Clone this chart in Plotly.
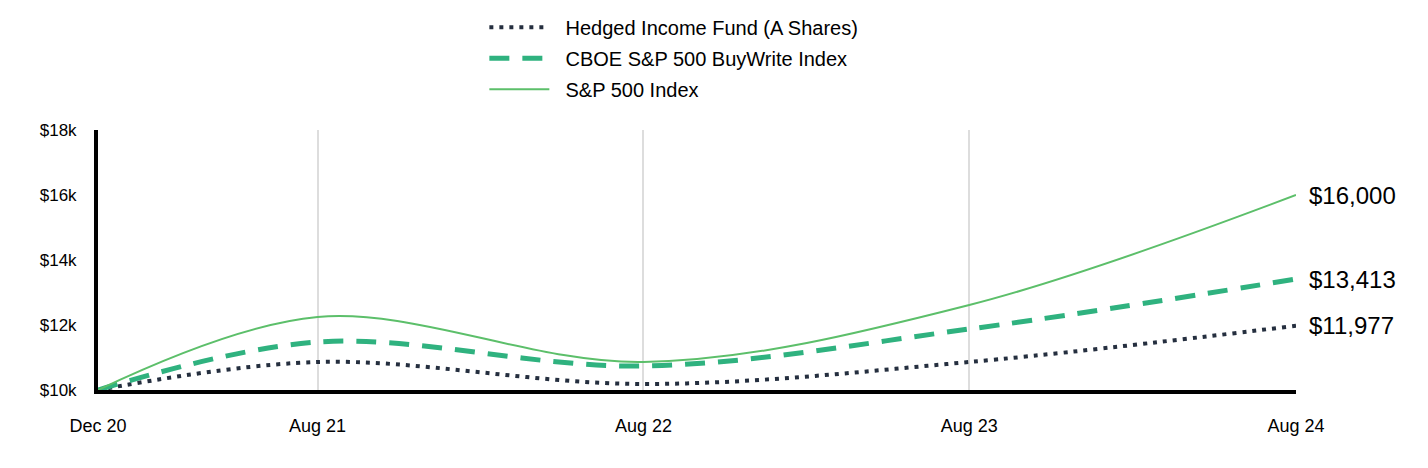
import plotly.graph_objects as go

dates = ["2020-12-28", "2021-08-31", "2022-08-31", "2023-08-31", "2024-08-31"]
date_labels = ["Dec 20", "Aug 21", "Aug 22", "Aug 23", "Aug 24"]

hedged = [10000, 10862, 10185, 10862, 11977]
buywrite = [10000, 11477, 10738, 11877, 13413]
sp500 = [10000, 12246, 10862, 12615, 16000]

y_ticks = [10000, 12000, 14000, 16000, 18000]
y_tick_text = ["$10k", "$12k", "$14k", "$16k", "$18k"]

names = ["Hedged Income Fund (A Shares)", "CBOE S&P 500 BuyWrite Index", "S&P 500 Index"]
series = [hedged, buywrite, sp500]
colors = ["#252f3f", "#2fb27f", "#5cbf6a"]
dashes = ["4px,6px", "20px,13px", "solid"]
widths = [4, 5, 2]

FONT = "Liberation Sans, Arial, sans-serif"

fig = go.Figure()
for i, (nm, vals) in enumerate(zip(names, series)):
    fig.add_trace(go.Scatter(
        x=dates, y=vals, name="\u00a0\u00a0" + nm, mode="lines",
        legendgroup=f"g{i}",
        line=dict(color=colors[i], dash=dashes[i], width=widths[i], shape="spline", smoothing=1),
        cliponaxis=False,
    ))

# end-value annotations
for vals in series:
    fig.add_annotation(
        x=dates[-1], y=vals[-1], text=f"${vals[-1]:,}", showarrow=False,
        xanchor="left", yanchor="middle", xshift=11,
        font=dict(family=FONT, size=24, color="#000000"),
    )

fig.update_layout(
    width=1420, height=460,
    margin=dict(l=90, r=132, t=122, b=78, autoexpand=False),
    paper_bgcolor="white", plot_bgcolor="white",
    font=dict(family=FONT, color="#000000"),
    showlegend=True,
    legend=dict(
        x=0.3225, y=1.47, xanchor="left", yanchor="top",
        font=dict(family=FONT, size=20, color="#000000"),
        tracegroupgap=2, itemwidth=60, bgcolor="rgba(0,0,0,0)",
    ),
    xaxis=dict(
        type="date", range=[dates[0], dates[-1]],
        tickvals=dates, ticktext=date_labels,
        showgrid=True, gridcolor="#dddddd", gridwidth=2,
        showline=True, linecolor="#000000", linewidth=4,
        ticks="", ticklabelstandoff=16,
        tickfont=dict(family=FONT, size=18, color="#000000"),
        zeroline=False,
    ),
    yaxis=dict(
        range=[10000, 18000],
        tickvals=y_ticks, ticktext=y_tick_text,
        showgrid=False,
        showline=True, linecolor="#000000", linewidth=4,
        ticks="", ticklabelstandoff=14,
        tickfont=dict(family=FONT, size=17, color="#000000"),
        zeroline=False,
    ),
)

fig.write_html("out.html")
